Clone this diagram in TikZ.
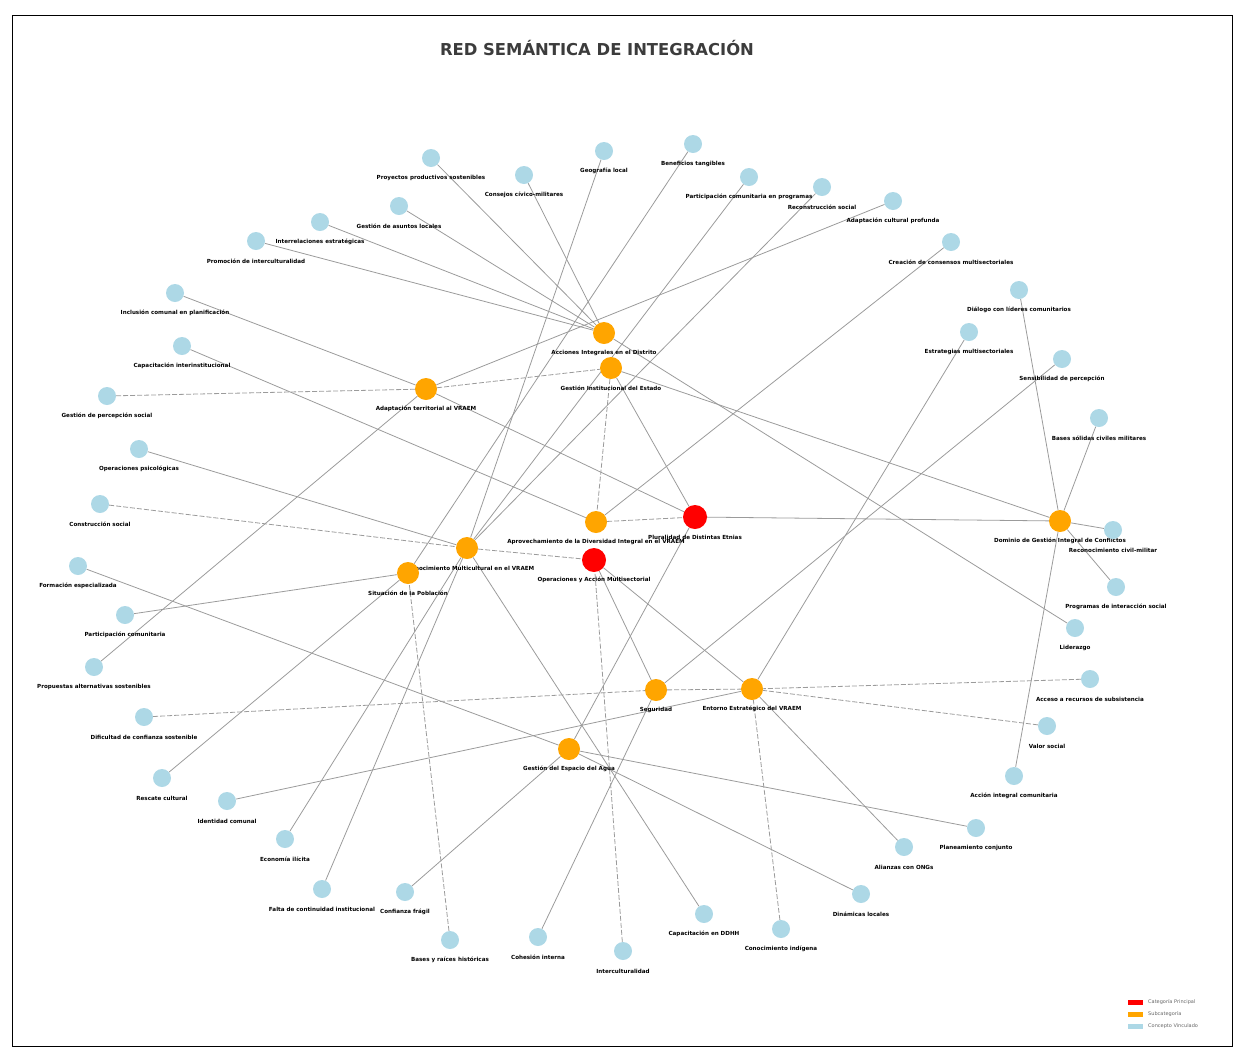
\documentclass[tikz,border=0pt]{standalone}
\usepackage{fontspec}
\setmainfont{DejaVu Sans}
\usetikzlibrary{backgrounds}

\begin{document}
\begin{tikzpicture}[x=1pt, y=-1pt]

\useasboundingbox (0,0) rectangle (1234,1050);

% colours
\definecolor{catred}{RGB}{255,0,0}
\definecolor{suborange}{RGB}{255,165,0}
\definecolor{conblue}{RGB}{173,216,230}
\definecolor{edgegray}{RGB}{155,155,155}
\definecolor{titlegray}{RGB}{60,60,60}

% styles
\pgfkeys{/var/.style={circle, inner sep=0}} % base style for all nodes
\pgfkeys{/mycat/.style={/var, fill=catred, minimum size=24pt}} % main categories
\pgfkeys{/mysub/.style={/var, fill=suborange, minimum size=22pt}} % subcategories
\pgfkeys{/mycon/.style={/var, fill=conblue, minimum size=18pt}} % linked concepts
\pgfkeys{/lbl/.style={font=\bfseries\fontsize{5.6}{6.5}\selectfont, inner sep=0}} % node labels
\pgfkeys{/link/.style={draw=edgegray, line width=0.8pt}} % plain relation
\pgfkeys{/weak/.style={/link, dash pattern=on 5pt off 2pt}} % dashed relation

% frame and title
\draw[line width=0.6pt] (12,15) rectangle (1232,1046);
\node[font=\bfseries\fontsize{16.4}{19}\selectfont, text=titlegray] (title) at (597,48) {RED SEMÁNTICA DE INTEGRACIÓN};

% main categories
\foreach \n/\x/\y/\t in {
m1/695/517/{Pluralidad de Distintas Etnias},
m2/594/560/{Operaciones y Acción Multisectorial}} {
\node[/mycat] (\n) at (\x,\y) {};
\node[/lbl] (\n-t) at (\x,\y+20) {\t};
}

% subcategories
\foreach \n/\x/\y/\t in {
s1/604/333/{Acciones Integrales en el Distrito},
s2/611/368/{Gestión Institucional del Estado},
s3/426/389/{Adaptación territorial al VRAEM},
s4/596/522/{Aprovechamiento de la Diversidad Integral en el VRAEM},
s5/467/548/{Reconocimiento Multicultural en el VRAEM},
s6/408/573/{Situación de la Población},
s7/1060/521/{Dominio de Gestión Integral de Conflictos},
s8/656/690/{Seguridad},
s9/752/689/{Entorno Estratégico del VRAEM},
s10/569/749/{Gestión del Espacio del Agua}} {
\node[/mysub] (\n) at (\x,\y) {};
\node[/lbl] (\n-t) at (\x,\y+20) {\t};
}

% linked concepts, clockwise from the top
\foreach \n/\x/\y/\t in {
c1/431/158/{Proyectos productivos sostenibles},
c2/524/175/{Consejos cívico-militares},
c3/604/151/{Geografía local},
c4/693/144/{Beneficios tangibles},
c5/749/177/{Participación comunitaria en programas},
c6/822/187/{Reconstrucción social},
c7/893/201/{Adaptación cultural profunda},
c8/951/242/{Creación de consensos multisectoriales},
c9/1019/290/{Diálogo con líderes comunitarios},
c10/969/332/{Estrategias multisectoriales},
c11/1062/359/{Sensibilidad de percepción},
c12/1099/418/{Bases sólidas civiles militares},
c13/1113/530/{Reconocimiento civil-militar},
c14/1116/587/{Programas de interacción social},
c15/1075/628/{Liderazgo},
c16/1090/679/{Acceso a recursos de subsistencia},
c17/1047/726/{Valor social},
c18/1014/776/{Acción integral comunitaria},
c19/976/828/{Planeamiento conjunto},
c20/904/847/{Alianzas con ONGs},
c21/861/894/{Dinámicas locales},
c22/781/929/{Conocimiento indígena},
c23/704/914/{Capacitación en DDHH},
c24/623/951/{Interculturalidad},
c25/538/937/{Cohesión interna},
c26/450/940/{Bases y raíces históricas},
c27/405/892/{Confianza frágil},
c28/322/889/{Falta de continuidad institucional},
c29/285/839/{Economía ilícita},
c30/227/801/{Identidad comunal},
c31/162/778/{Rescate cultural},
c32/144/717/{Dificultad de confianza sostenible},
c33/94/667/{Propuestas alternativas sostenibles},
c34/125/615/{Participación comunitaria},
c35/78/566/{Formación especializada},
c36/100/504/{Construcción social},
c37/139/449/{Operaciones psicológicas},
c38/107/396/{Gestión de percepción social},
c39/182/346/{Capacitación interinstitucional},
c40/175/293/{Inclusión comunal en planificación},
c41/256/241/{Promoción de interculturalidad},
c42/320/222/{Interrelaciones estratégicas},
c43/399/206/{Gestión de asuntos locales}} {
\node[/mycon] (\n) at (\x,\y) {};
\node[/lbl] (\n-t) at (\x,\y+20) {\t};
}

% relations behind the nodes
\begin{pgfonlayer}{background}
\foreach \a/\b in {c1/s1, c2/s1, c3/s5, c4/s6, c5/s5, c6/s5, c7/s3, c8/s4,
c9/s7, c10/s9, c11/s8, c12/s7, c13/s7, c14/s7, c15/s1, c18/s7, c19/s10,
c20/s9, c21/s10, c23/s5, c25/s8, c27/s10, c28/s5, c29/s5, c30/s9, c31/s6,
c33/s3, c34/s6, c35/s10, c37/s5, c39/s4, c40/s3, c41/s1, c42/s1, c43/s1,
s2/m1, s3/m1, s2/s7, m1/s7, m1/s10, m2/s8, m2/s9} {
\draw[/link] (\a) -- (\b);
}
\foreach \a/\b in {c16/s9, c17/s9, c22/s9, c24/m2, c26/s6, c32/s8, c36/s5,
c38/s3, s3/s2, s2/s4, s4/m1, s5/m2, s8/s9} {
\draw[/weak] (\a) -- (\b);
}
\end{pgfonlayer}

% legend
\foreach \k/\c/\t in {0/catred/{Categoría Principal}, 1/suborange/{Subcategoría}, 2/conblue/{Concepto Vinculado}} {
\fill[\c] (1128,1000+12*\k) rectangle (1143,1005+12*\k);
\node[font=\fontsize{5}{6}\selectfont, text=black!60, anchor=west, inner sep=0] (key\k) at (1148,1002.5+12*\k) {\t};
}

\end{tikzpicture}
\end{document}
